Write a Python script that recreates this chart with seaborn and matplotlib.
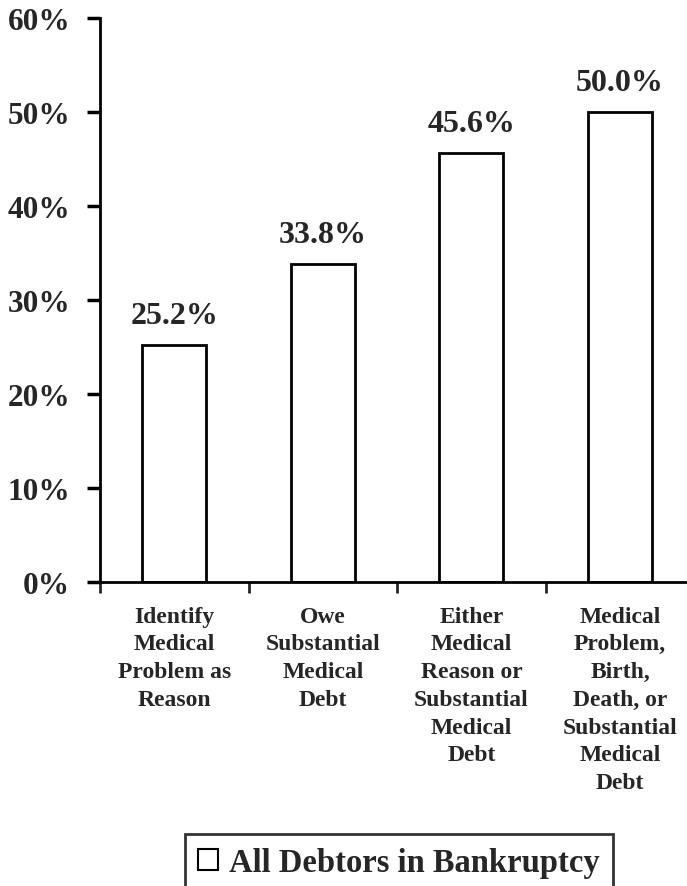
import matplotlib
matplotlib.use("Agg")
import matplotlib.pyplot as plt
from matplotlib.patches import Patch
import pandas as pd
import seaborn as sns

# ------------------------------------------------------------------------------
# Data
# ------------------------------------------------------------------------------
CATEGORIES = [
    "Identify\nMedical\nProblem as\nReason",
    "Owe\nSubstantial\nMedical\nDebt",
    "Either\nMedical\nReason or\nSubstantial\nMedical\nDebt",
    "Medical\nProblem,\nBirth,\nDeath, or\nSubstantial\nMedical\nDebt",
]
PERCENTS = [25.2, 33.8, 45.6, 50.0]
Y_TICKS = [0, 10, 20, 30, 40, 50, 60]
SERIES_LABEL = "All Debtors in Bankruptcy"

SERIF = ["Liberation Serif", "DejaVu Serif"]

sns.set_style("white")
plt.rcParams["font.family"] = SERIF
plt.rcParams["font.weight"] = "bold"

df = pd.DataFrame({"cat": CATEGORIES, "pct": PERCENTS})

fig = plt.figure(figsize=(6.87, 8.87), dpi=100)
ax = fig.add_axes([0.1456, 0.3427, 0.865, 0.6359])

sns.barplot(data=df, x="cat", y="pct", color="white", edgecolor="black",
            linewidth=2, width=0.43, ax=ax)

ax.set_xlim(-0.5, 3.5)
ax.set_ylim(0, 60)
ax.set_yticks(Y_TICKS)
ax.set_yticklabels(["%d%%" % v for v in Y_TICKS], fontsize=22.5,
                   fontweight="bold")
ax.set_xticks([0, 1, 2, 3])
ax.set_xticklabels(CATEGORIES, fontsize=17, fontweight="bold",
                   linespacing=1.42, va="top")
ax.tick_params(axis="x", length=0, pad=17)
ax.tick_params(axis="y", length=9.5, width=2.5, direction="out", left=True,
               pad=12, color="black")
# boundary ticks on the category axis
ax.set_xticks([-0.5, 0.5, 1.5, 2.5], minor=True)
ax.tick_params(axis="x", which="minor", length=8, width=2,
               direction="out", bottom=True)
ax.set_xlabel("")
ax.set_ylabel("")

for side in ["top", "right"]:
    ax.spines[side].set_visible(False)
for side in ["left", "bottom"]:
    ax.spines[side].set_color("black")
    ax.spines[side].set_linewidth(2)

for i, v in enumerate(PERCENTS):
    ax.annotate("%.1f%%" % v, (i, v), xytext=(0, 11),
                textcoords="offset points", ha="center", va="bottom",
                fontsize=23, fontweight="bold")

handle = Patch(facecolor="white", edgecolor="black", linewidth=1.5)
leg = fig.legend([handle], [SERIES_LABEL], loc="upper left",
                 bbox_to_anchor=(185 / 687, 1 - 835 / 887), frameon=True,
                 fancybox=False, edgecolor="black", handlelength=0.6,
                 handleheight=0.65, handletextpad=0.35, borderpad=0.4,
                 borderaxespad=0,
                 prop={"family": SERIF, "weight": "bold", "size": 23.5})
leg.get_frame().set_linewidth(2)

fig.savefig("out.png", dpi=100, facecolor="white")
